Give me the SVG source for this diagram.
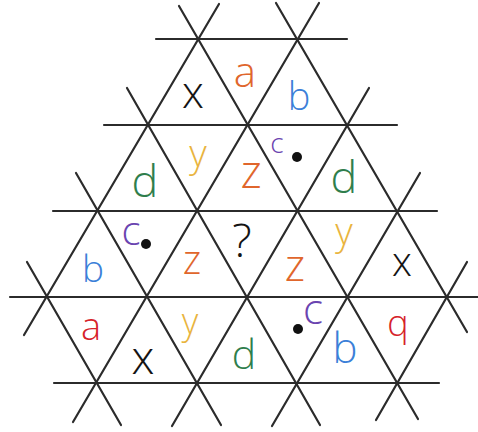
<svg xmlns="http://www.w3.org/2000/svg" width="478" height="432" viewBox="0 0 478 432">
<style>
.g line{stroke:#2b2b2b;stroke-width:2.2;stroke-linecap:round}
text{font-family:"Open Sans","Noto Sans","DejaVu Sans",sans-serif;font-weight:300;text-anchor:middle}
.k{fill:#141414}.o{fill:#e0662c}.b{fill:#3b80d8}.p{fill:#6a44b0}.gr{fill:#2f7e4c}.ye{fill:#e9b43e}.r{fill:#d6222a}
</style>
<rect width="478" height="432" fill="#fff"/>
<g id="grid" class="g">
<line x1="156" y1="39" x2="347" y2="39"/>
<line x1="104" y1="125" x2="397" y2="125"/>
<line x1="53" y1="211" x2="437" y2="211"/>
<line x1="10" y1="297" x2="478" y2="297"/>
<line x1="54" y1="383" x2="439" y2="383"/>
<line x1="179" y1="6" x2="418" y2="419"/>
<line x1="276" y1="3" x2="467" y2="332"/>
<line x1="127" y1="88" x2="320" y2="425"/>
<line x1="76" y1="173" x2="221" y2="425"/>
<line x1="27" y1="262" x2="121" y2="425"/>
<line x1="219" y1="4" x2="24" y2="335"/>
<line x1="319" y1="3" x2="73" y2="422"/>
<line x1="369" y1="88" x2="172" y2="426"/>
<line x1="420" y1="173" x2="272" y2="426"/>
<line x1="467" y1="262" x2="376" y2="420"/>
</g>
<g id="labels">
<text class="k" x="193" y="108" font-size="44">x</text>
<text class="o" x="245" y="87" font-size="42">a</text>
<text class="b" x="299" y="110" font-size="38">b</text>
<text class="gr" x="145" y="197" font-size="45">d</text>
<text class="ye" x="198" y="167" font-size="38">y</text>
<text class="o" x="251" y="188" font-size="46">z</text>
<text class="p" x="277" y="153" font-size="28">c</text>
<circle cx="297" cy="157" r="5" fill="#111"/>
<text class="gr" x="344" y="193" font-size="45">d</text>
<text class="b" x="93" y="282" font-size="37">b</text>
<text class="p" x="131" y="245" font-size="40">c</text>
<circle cx="146" cy="244" r="5" fill="#111"/>
<text class="o" x="192" y="274" font-size="40">z</text>
<text class="k" x="242" y="257" font-size="46">?</text>
<text class="o" x="295" y="281" font-size="44">z</text>
<text class="ye" x="344" y="245" font-size="38">y</text>
<text class="k" x="402" y="276" font-size="40">x</text>
<text class="r" x="91" y="340" font-size="38">a</text>
<text class="k" x="143" y="374" font-size="46">x</text>
<text class="ye" x="190" y="334" font-size="36">y</text>
<text class="gr" x="244" y="369" font-size="41">d</text>
<circle cx="298" cy="329" r="5" fill="#111"/>
<text class="p" x="313" y="324" font-size="42">c</text>
<text class="b" x="345" y="363" font-size="42">b</text>
<text class="r" x="398" y="336" font-size="36">q</text>
</g>
</svg>
